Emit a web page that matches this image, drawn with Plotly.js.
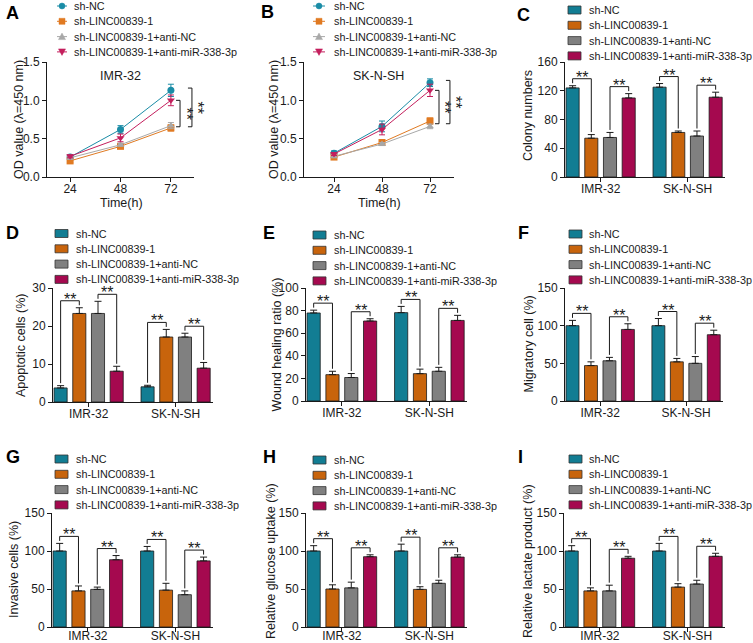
<!DOCTYPE html>
<html><head><meta charset="utf-8">
<script src="https://cdn.plot.ly/plotly-3.0.1.min.js"></script>
<style>html,body{margin:0;padding:0;background:#fff}</style>
</head><body><div id="chart" style="width:753px;height:643px"></div>
<script>
// ================= DATA =================
const groups = ['sh-NC','sh-LINC00839-1','sh-LINC00839-1+anti-NC','sh-LINC00839-1+anti-miR-338-3p'];
const cellLines = ['IMR-32','SK-N-SH'];
const timePoints = [24,48,72];

// CCK-8 OD values (rows = groups, columns = time points)
const odImr32    = [[0.26,0.62,1.13],[0.21,0.40,0.64],[0.25,0.42,0.67],[0.27,0.51,1.00]];
const odImr32Err = [[0.03,0.05,0.08],[0.02,0.03,0.04],[0.02,0.02,0.04],[0.02,0.05,0.07]];
const odSknsh    = [[0.31,0.66,1.23],[0.26,0.45,0.73],[0.27,0.43,0.66],[0.30,0.62,1.13]];
const odSknshErr = [[0.03,0.07,0.05],[0.02,0.03,0.04],[0.02,0.02,0.03],[0.02,0.07,0.08]];

// Bar panels (rows = groups, columns = cell lines)
const colonyMeans    = [[124,125],[54,62],[55,57],[110,111]];
const colonyErrs     = [[3,5],[5,2],[7,7],[6,7]];
const apoptosisMeans = [[3.7,4.0],[23.3,17.1],[23.3,17.1],[8.1,8.9]];
const apoptosisErrs  = [[0.6,0.4],[1.5,2.0],[3.2,1.0],[1.3,1.5]];
const woundMeans     = [[77.9,78.2],[23.3,24.2],[20.8,26.3],[70.8,71.3]];
const woundErrs      = [[2.5,5.5],[3,4],[3.5,3.5],[2,4.5]];
const migratoryMeans = [[100,100],[47,52],[53.4,50],[95,88]];
const migratoryErrs  = [[7,9.5],[5,4.5],[4.5,9],[7.5,6]];
const invasiveMeans  = [[100,100],[47.5,48.5],[49.5,42.5],[88.5,87]];
const invasiveErrs   = [[10,6],[6.5,9],[3,5],[5.5,5]];
const glucoseMeans   = [[100,100],[50,49.5],[51.5,57.5],[92.5,92]];
const glucoseErrs    = [[7,9],[5.5,3.5],[7.5,4],[2.5,3]];
const lactateMeans   = [[100,100],[47.5,52.5],[47.5,56.5],[90.5,93]];
const lactateErrs    = [[7,10],[4,4.5],[7.5,5],[2.5,4]];

const sigPairs = [[0,1],[2,3]];

// ================= STYLE / LAYOUT =================
const W = 753, H = 643;
const FONT = '"Liberation Sans", Arial, Helvetica, sans-serif';
const INK = '#1a1a1a';
const barColors  = ['#127d93','#c8640c','#808080','#a5094f'];
const lineColors = ['#1a8ca6','#e07a22','#a8a8a8','#c41f5d'];
const symbols = ['circle','square','triangle-up','triangle-down'];
const BARGAP = 0.14, BARGROUPGAP = 0.30;
const LEG_DY = 15.3;
const LEG_FS = 10.8, YT_FS = 12.5, STAR_FS = 16;

const linePanels = [
  {ax:1, box:[47,194,62,177], xrange:[13,83], yrange:[0,1.5], dtick:0.5, means:odImr32, errs:odImr32Err,
   cell:'IMR-32', cellPos:[120,76], ytitle:'OD value (λ=450 nm)', ytitlePos:[19,120], xtitlePos:[121,203],
   letter:['A',12,13], legend:{l0:57,l1:67,m:62,t:72,y0:6}, bx:[0.905,0.986]},
  {ax:2, box:[304,454,62,177], xrange:[9,84], yrange:[0,1.5], dtick:0.5, means:odSknsh, errs:odSknshErr,
   cell:'SK-N-SH', cellPos:[378,76], ytitle:'OD value (λ=450 nm)', ytitlePos:[274,120], xtitlePos:[379,203],
   letter:['B',267,12], legend:{l0:313,l1:325,m:319,t:332,y0:6}, bx:[0.90,0.973]}
];
const barPanels = [
  {ax:3, box:[565,725,62,177], yrange:[0,160], dtick:40, means:colonyMeans, errs:colonyErrs, lblShift:-3,
   ytitle:'Colony numbers', ytitlePos:[528,116], letter:['C',523,15], legend:{sw:568,t:587,y0:10}},
  {ax:4, box:[53,213,288,402], yrange:[0,30], dtick:10, means:apoptosisMeans, errs:apoptosisErrs, lblShift:-3,
   ytitle:'Apoptotic cells (%)', ytitlePos:[21,345], letter:['D',13,233], legend:{sw:55,t:74,y0:233.5}},
  {ax:5, box:[306,467,288,401], yrange:[0,100], dtick:20, means:woundMeans, errs:woundErrs, lblShift:-3,
   ytitle:'Wound healing ratio (%)', ytitlePos:[276,344.5], letter:['E',269,233], legend:{sw:313,t:332,y0:235}},
  {ax:6, box:[565,723,288,401], yrange:[0,150], dtick:50, means:migratoryMeans, errs:migratoryErrs, lblShift:-3,
   ytitle:'Migratory cell (%)', ytitlePos:[528,344.5], letter:['F',523,233], legend:{sw:569,t:587,y0:234}},
  {ax:7, box:[52,213,513,627], yrange:[0,150], dtick:50, means:invasiveMeans, errs:invasiveErrs, lblShift:-6,
   ytitle:'Invasive cells (%)', ytitlePos:[14,570], letter:['G',13,457], legend:{sw:55,t:74,y0:459}},
  {ax:8, box:[306,467,513,627], yrange:[0,150], dtick:50, means:glucoseMeans, errs:glucoseErrs, lblShift:-6,
   ytitle:'Relative glucose uptake (%)', ytitlePos:[271,561], letter:['H',269,457], legend:{sw:313,t:332,y0:460}},
  {ax:9, box:[564,725,513,627], yrange:[0,150], dtick:50, means:lactateMeans, errs:lactateErrs, lblShift:-6,
   ytitle:'Relative lactate product (%)', ytitlePos:[528,561], letter:['I',520,457], legend:{sw:569,t:587,y0:459}}
];

const px = x => x / W, py = y => 1 - y / H;
const axId = (l,k) => k === 1 ? l : l + k;
const axKey = (l,k) => (k === 1 ? l + 'axis' : l + 'axis' + k);
function dom(b){ return {x:[b[0]/W, b[1]/W], y:[1-b[3]/H, 1-b[2]/H]}; }
function axisBase(){
  return {showline:true, linecolor:INK, linewidth:1, ticks:'outside', ticklen:4, tickwidth:1, tickcolor:INK,
          showgrid:false, zeroline:false, fixedrange:true, tickfont:{family:FONT, size:12, color:INK}};
}

const traces = [];
const layout = {width:W, height:H, margin:{l:0,r:0,t:0,b:0}, showlegend:false,
  barmode:'group', bargap:BARGAP, bargroupgap:BARGROUPGAP,
  paper_bgcolor:'#ffffff', plot_bgcolor:'rgba(0,0,0,0)',
  font:{family:FONT, size:12, color:INK}, shapes:[], annotations:[]};

function text(t, x, y, opts){
  layout.annotations.push(Object.assign({text:t, x:px(x), y:py(y), xref:'paper', yref:'paper',
    showarrow:false, xanchor:'center', yanchor:'middle', font:{family:FONT, size:12, color:INK}}, opts||{}));
}
function common(p){
  const t = p.letter;
  text(t[0], t[1], t[2], {font:{family:FONT, size:18, color:'#000', weight:'bold'}});
  text(p.ytitle, p.ytitlePos[0], p.ytitlePos[1], {textangle:-90, font:{family:FONT, size:YT_FS, color:INK}});
}

// ---- line panels ----
linePanels.forEach(p => {
  const xa = axId('x',p.ax), ya = axId('y',p.ax), d = dom(p.box);
  layout[axKey('x',p.ax)] = Object.assign(axisBase(), {domain:d.x, anchor:ya, range:p.xrange, tickvals:timePoints, ticklabelstandoff:-3});
  layout[axKey('y',p.ax)] = Object.assign(axisBase(), {domain:d.y, anchor:xa, range:p.yrange, tick0:0, dtick:p.dtick, tickformat:'.1f'});
  groups.forEach((g,gi) => traces.push({type:'scatter', mode:'lines+markers', name:g, x:timePoints, y:p.means[gi],
    error_y:{type:'data', array:p.errs[gi], color:lineColors[gi], thickness:1, width:3},
    line:{color:lineColors[gi], width:1}, marker:{symbol:symbols[gi], size:7, color:lineColors[gi]},
    xaxis:xa, yaxis:ya, cliponaxis:false}));
  common(p);
  text(p.cell, p.cellPos[0], p.cellPos[1], {font:{family:FONT, size:12.5, color:INK}});
  text('Time(h)', p.xtitlePos[0], p.xtitlePos[1], {font:{family:FONT, size:12.5, color:INK}});
  // significance brackets at the last time point
  const last = timePoints.length - 1;
  const bottom = (p.means[1][last] + p.means[2][last]) / 2;
  const tops = [p.means[3][last], p.means[0][last] + 0.03];
  const stub = 4 / (p.box[1] - p.box[0]);
  const xr = xa + ' domain';
  tops.forEach((top, bi) => {
    const xd = p.bx[bi];
    [[xd,top,xd,bottom],[xd-stub,top,xd,top],[xd-stub,bottom,xd,bottom]].forEach(s =>
      layout.shapes.push({type:'line', xref:xr, yref:ya, x0:s[0], y0:s[1], x1:s[2], y1:s[3], line:{color:INK, width:1}}));
    layout.annotations.push({xref:xr, yref:ya, x:xd, y:(top+bottom)/2, text:'**', textangle:90, showarrow:false,
      xanchor:'center', yanchor:'middle', xshift:6, font:{family:FONT, size:STAR_FS, color:INK}});
  });
  // legend
  const L = p.legend;
  groups.forEach((g,gi) => {
    const y = L.y0 + gi*LEG_DY, c = lineColors[gi];
    layout.shapes.push({type:'line', xref:'paper', yref:'paper', x0:px(L.l0), x1:px(L.l1), y0:py(y), y1:py(y), line:{color:c, width:1}});
    const m = L.m, r = 3;
    if (gi === 0) layout.shapes.push({type:'circle', xref:'paper', yref:'paper', x0:px(m-r), x1:px(m+r), y0:py(y+r), y1:py(y-r), fillcolor:c, line:{color:c, width:0.5}});
    else if (gi === 1) layout.shapes.push({type:'rect', xref:'paper', yref:'paper', x0:px(m-r), x1:px(m+r), y0:py(y+r), y1:py(y-r), fillcolor:c, line:{color:c, width:0.5}});
    else {
      const s = gi === 2 ? 1 : -1;
      const path = `M${px(m-r-0.5)},${py(y+s*3)}L${px(m+r+0.5)},${py(y+s*3)}L${px(m)},${py(y-s*3.5)}Z`;
      layout.shapes.push({type:'path', xref:'paper', yref:'paper', path, fillcolor:c, line:{color:c, width:0.5}});
    }
    text(g, L.t, y, {xanchor:'left', font:{family:FONT, size:LEG_FS, color:INK}});
  });
});

// ---- bar panels ----
const slot = (1 - BARGAP) / groups.length;
const offset = gi => (gi - (groups.length - 1) / 2) * slot;
const catPos = cellLines.map((_, i) => i);
barPanels.forEach(p => {
  const xa = axId('x',p.ax), ya = axId('y',p.ax), d = dom(p.box);
  layout[axKey('x',p.ax)] = Object.assign(axisBase(), {domain:d.x, anchor:ya, range:[-0.41,1.43], tickvals:catPos, ticktext:cellLines, ticklabelstandoff:p.lblShift});
  layout[axKey('y',p.ax)] = Object.assign(axisBase(), {domain:d.y, anchor:xa, range:p.yrange, tick0:0, dtick:p.dtick});
  groups.forEach((g,gi) => traces.push({type:'bar', name:g, x:catPos, y:p.means[gi],
    error_y:{type:'data', symmetric:false, array:p.errs[gi], arrayminus:p.errs[gi].map(() => 0), color:INK, thickness:1, width:3.5},
    marker:{color:barColors[gi], line:{color:INK, width:0.8}}, xaxis:xa, yaxis:ya}));
  common(p);
  const ppu = (p.box[3] - p.box[2]) / (p.yrange[1] - p.yrange[0]);
  cellLines.forEach((c, ci) => sigPairs.forEach(([a,b]) => {
    const ta = p.means[a][ci] + p.errs[a][ci], tb = p.means[b][ci] + p.errs[b][ci];
    const yH = Math.max(ta, tb) + 7 / ppu, leg = 2.5 / ppu;
    const xA = ci + offset(a), xB = ci + offset(b);
    layout.shapes.push({type:'path', xref:xa, yref:ya, path:`M${xA},${ta+leg}L${xA},${yH}L${xB},${yH}L${xB},${tb+leg}`, line:{color:INK, width:1}});
    layout.annotations.push({xref:xa, yref:ya, x:(xA+xB)/2, y:yH, text:'**', showarrow:false, xanchor:'center', yanchor:'bottom', yshift:-9,
      font:{family:FONT, size:STAR_FS, color:INK}});
  }));
  const L = p.legend;
  groups.forEach((g,gi) => {
    const y = L.y0 + gi*LEG_DY;
    layout.shapes.push({type:'rect', xref:'paper', yref:'paper', x0:px(L.sw), x1:px(L.sw+13), y0:py(y+4), y1:py(y-4), fillcolor:barColors[gi], line:{color:'#333', width:0.8}});
    text(g, L.t, y, {xanchor:'left', font:{family:FONT, size:LEG_FS, color:INK}});
  });
});

Plotly.newPlot('chart', traces, layout, {displayModeBar:false, staticPlot:true});
</script></body></html>
